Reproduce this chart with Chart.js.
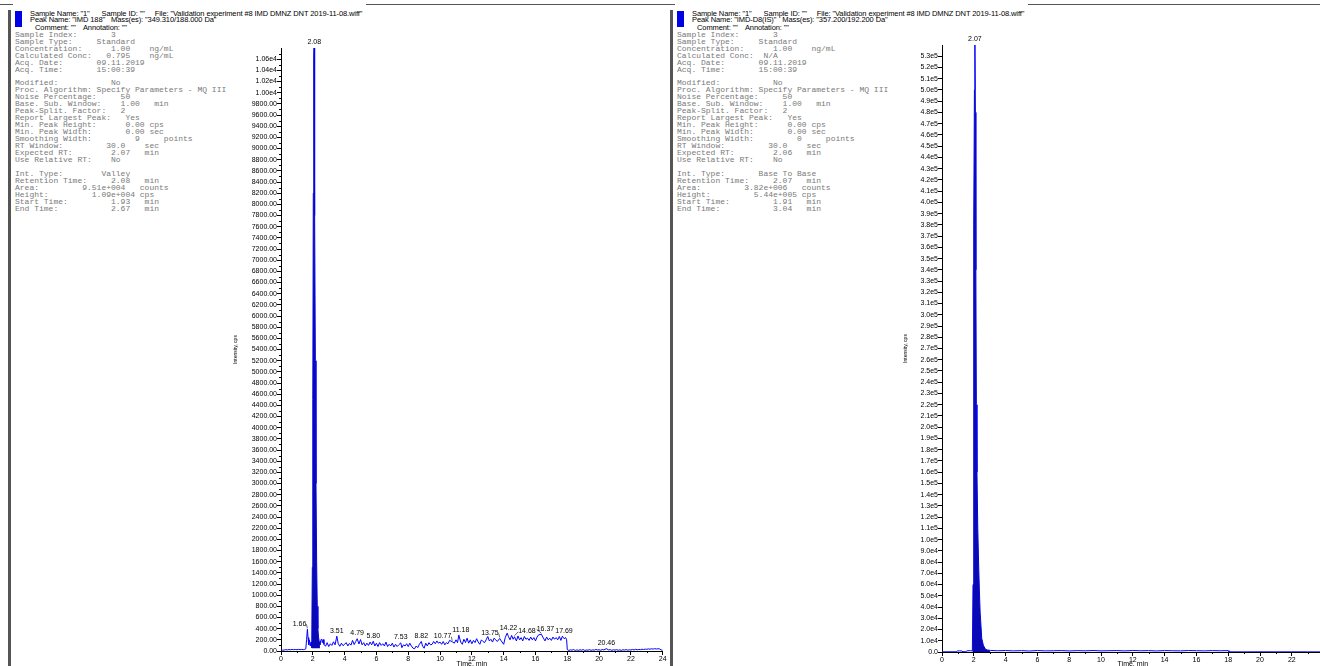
<!DOCTYPE html>
<html>
<head>
<meta charset="utf-8">
<script src="https://cdn.jsdelivr.net/npm/chart.js@4.4.1/dist/chart.umd.min.js"></script>
<style>
html, body { margin: 0; padding: 0; width: 1320px; height: 666px; overflow: hidden; background: #fff; }
.panel { position: absolute; top: 0; width: 662px; height: 666px; }
#topLine { position: absolute; left: 0; top: 4px; width: 1320px; height: 1px; background: #555; }
.border { position: absolute; left: 8px; top: 10px; width: 3px; bottom: 0; background: #555; }
.swatch { position: absolute; left: 15px; top: 11px; width: 7px; height: 16px; background: #0000e6; }
.hdr, .hdr2 { position: absolute; font: 7.5px "Liberation Sans", Arial, sans-serif; letter-spacing: -0.1px;
              line-height: 8px; white-space: pre; color: #000; }
.hdr { left: 13px; top: 0; padding: 9.5px 4px 0 17px; background: #fff; }
.params { position: absolute; left: 15px; top: 31.8px; margin: 0; font: 8px "Liberation Mono", monospace;
          line-height: 6.95px; color: #7a7a7a; white-space: pre; }
canvas { position: absolute; top: 30px; }
</style>
</head>
<body>
<div id="topLine"></div>
<div class="panel" id="panelL" style="left:0"></div>
<div class="panel" id="panelR" style="left:662px"></div>

<script>
/* Chromatogram data */

const leftTime = [
    0, 0.1, 0.2, 0.3, 0.4, 0.5, 0.6, 0.7, 0.8, 0.9, 1.0, 1.1, 1.2, 1.3, 1.4, 1.5, 1.56, 1.61, 1.66, 1.7,
    1.74, 1.79, 1.84, 1.89, 1.93, 1.97, 2.0, 2.03, 2.06, 2.08, 2.1, 2.13, 2.16, 2.2, 2.24, 2.28, 2.32, 2.36, 2.4, 2.45,
    2.5, 2.55, 2.6, 2.65, 2.7, 2.8, 2.9, 3.0, 3.1, 3.2, 3.3, 3.4, 3.51, 3.6, 3.7, 3.8, 3.9, 4.0, 4.1, 4.2,
    4.3, 4.4, 4.5, 4.6, 4.7, 4.79, 4.9, 5.0, 5.1, 5.2, 5.3, 5.4, 5.5, 5.6, 5.7, 5.8, 5.9, 6.0, 6.1, 6.2,
    6.3, 6.4, 6.5, 6.6, 6.7, 6.8, 6.9, 7.0, 7.1, 7.2, 7.3, 7.4, 7.53, 7.6, 7.7, 7.8, 7.9, 8.0, 8.1, 8.2,
    8.3, 8.4, 8.5, 8.6, 8.7, 8.82, 8.9, 9.0, 9.1, 9.2, 9.3, 9.4, 9.5, 9.6, 9.7, 9.8, 9.9, 10.0, 10.1, 10.2,
    10.3, 10.4, 10.5, 10.6, 10.77, 10.9, 11.0, 11.1, 11.18, 11.3, 11.4, 11.5, 11.6, 11.7, 11.8, 11.9, 12.0, 12.1, 12.2, 12.3,
    12.4, 12.5, 12.6, 12.7, 12.8, 12.9, 13.0, 13.1, 13.2, 13.3, 13.4, 13.5, 13.6, 13.75, 13.85, 14.0, 14.1, 14.22, 14.3, 14.4,
    14.5, 14.6, 14.68, 14.8, 14.9, 15.0, 15.1, 15.2, 15.3, 15.4, 15.5, 15.6, 15.7, 15.8, 15.9, 16.0, 16.1, 16.2, 16.37, 16.5,
    16.6, 16.7, 16.8, 16.9, 17.0, 17.1, 17.2, 17.3, 17.4, 17.5, 17.6, 17.69, 17.8, 17.9, 17.96, 18.0, 18.1, 18.2, 18.3, 18.4,
    18.5, 18.6, 18.7, 18.8, 18.9, 19.0, 19.1, 19.2, 19.3, 19.4, 19.5, 19.6, 19.7, 19.8, 19.9, 20.0, 20.1, 20.2, 20.3, 20.46,
    20.6, 20.7, 20.8, 20.9, 21.0, 21.1, 21.2, 21.3, 21.4, 21.5, 21.6, 21.7, 21.8, 21.9, 22.0, 22.1, 22.2, 22.3, 22.4, 22.5,
    22.6, 22.7, 22.8, 22.9, 23.0, 23.1, 23.2, 23.3, 23.4, 23.5, 23.6, 23.7, 23.8, 23.9, 24.0
];

const leftIntensity = [
    10, 14, 18, 24, 20, 26, 22, 28, 24, 27, 23, 29, 25, 28, 24, 30, 40, 210, 390, 240,
    110, 200, 90, 160, 60, 1500, 4500, 8200, 10600, 10900, 10200, 7800, 5200, 3000, 1600, 800, 400, 250, 170, 110,
    190, 215, 150, 205, 120, 85, 150, 80, 130, 100, 165, 110, 265, 130, 85, 140, 95, 120, 150, 90,
    135, 105, 190, 115, 170, 220, 125, 205, 110, 150, 90, 140, 100, 160, 110, 175, 90, 140, 80, 150,
    100, 130, 90, 160, 80, 120, 90, 140, 70, 120, 80, 110, 145, 60, 110, 90, 130, 80, 140, 90,
    50, 40, 90, 60, 120, 170, 90, 50, 140, 90, 150, 110, 120, 170, 130, 180, 140, 160, 120, 170,
    110, 150, 130, 190, 165, 140, 200, 150, 285, 160, 120, 210, 150, 230, 140, 200, 130, 190, 150, 220,
    160, 120, 200, 170, 150, 200, 260, 180, 210, 160, 230, 200, 170, 225, 180, 120, 240, 320, 260, 200,
    280, 210, 255, 180, 270, 200, 240, 180, 260, 210, 230, 190, 250, 200, 240, 180, 250, 290, 300, 230,
    180, 250, 200, 230, 190, 250, 210, 240, 200, 260, 190, 265, 220, 240, 200, 25, 10, 20, 15, 25,
    10, 20, 12, 22, 15, 25, 10, 18, 14, 24, 12, 20, 15, 28, 18, 22, 14, 26, 20, 42,
    18, 25, 12, 22, 16, 24, 14, 20, 12, 22, 18, 25, 15, 22, 18, 28, 20, 30, 22, 28,
    24, 32, 26, 34, 30, 38, 32, 40, 34, 42, 36, 40, 38, 20, 10
];

const rightTime = [
    0, 0.5, 0.9, 0.95, 1.1, 1.26, 1.3, 1.5, 1.57, 1.7, 1.8, 1.91, 1.95, 1.98, 2.01, 2.04, 2.07, 2.1, 2.13, 2.16,
    2.2, 2.25, 2.3, 2.35, 2.4, 2.5, 2.6, 2.73, 2.85, 3.04, 3.5, 4.0, 4.5, 5.0, 5.5, 6.0, 6.5, 7.0, 7.5, 8.0,
    8.5, 9.0, 9.5, 10.0, 10.5, 11.0, 11.5, 12.0, 12.5, 13.0, 13.5, 14.0, 14.5, 15.0, 15.5, 16.0, 16.5, 17.0, 17.5, 18.0,
    18.05, 19.0, 20.0, 21.0, 22.0, 23.0, 24.0
];

const rightIntensity = [
    150, 200, 180, 900, 1000, 900, 250, 300, 1000, 1200, 1100, 1000, 60000, 200000, 380000, 500000, 544000, 480000, 340000, 220000,
    160000, 110000, 80000, 55000, 35000, 12000, 6000, 2500, 1800, 1400, 1100, 1300, 1000, 1200, 900, 1300, 1000, 1100, 1250, 950,
    1200, 1050, 1300, 1000, 1150, 1250, 1000, 1300, 1100, 1200, 950, 1250, 1100, 1000, 1300, 1150, 1000, 1250, 1100, 1200,
    150, 120, 160, 140, 150, 130, 120
];

const leftPeakTimes = [1.66, 2.08, 3.51, 4.79, 5.8, 7.53, 8.82, 10.77, 11.18, 13.75, 14.22, 14.68, 16.37, 17.69, 20.46];
const rightPeakTimes = [2.07];

const leftFillRange = [1.93, 2.45];
const rightFillRange = [1.91, 3.04];

const xTickLabels = [0, 2, 4, 6, 8, 10, 12, 14, 16, 18, 20, 22, 24];

/* Panel text */

function row(label, fields) {

    let s = label;

    fields.forEach(([col, txt]) => { s = s.padEnd(col) + txt; });

    return s;

}

const leftParams = [
    row("Sample Index:", [[20, "3"]]),
    row("Sample Type:", [[17, "Standard"]]),
    row("Concentration:", [[20, "1.00"], [28, "ng/mL"]]),
    row("Calculated Conc:", [[19, "0.795"], [28, "ng/mL"]]),
    row("Acq. Date:", [[17, "09.11.2019"]]),
    row("Acq. Time:", [[17, "15:00:39"]]),
    "",
    row("Modified:", [[20, "No"]]),
    "Proc. Algorithm: Specify Parameters - MQ III",
    row("Noise Percentage:", [[22, "50"]]),
    row("Base. Sub. Window:", [[22, "1.00"], [29, "min"]]),
    row("Peak-Split. Factor:", [[22, "2"]]),
    row("Report Largest Peak:", [[23, "Yes"]]),
    row("Min. Peak Height:", [[23, "0.00"], [28, "cps"]]),
    row("Min. Peak Width:", [[23, "0.00"], [28, "sec"]]),
    row("Smoothing Width:", [[25, "9"], [31, "points"]]),
    row("RT Window:", [[19, "30.0"], [27, "sec"]]),
    row("Expected RT:", [[20, "2.07"], [27, "min"]]),
    row("Use Relative RT:", [[20, "No"]]),
    "",
    row("Int. Type:", [[18, "Valley"]]),
    row("Retention Time:", [[20, "2.08"], [27, "min"]]),
    row("Area:", [[14, "9.51e+004"], [26, "counts"]]),
    row("Height:", [[16, "1.09e+004"], [26, "cps"]]),
    row("Start Time:", [[20, "1.93"], [27, "min"]]),
    row("End Time:", [[20, "2.67"], [27, "min"]])
];

const rightParams = [
    row("Sample Index:", [[20, "3"]]),
    row("Sample Type:", [[17, "Standard"]]),
    row("Concentration:", [[20, "1.00"], [28, "ng/mL"]]),
    row("Calculated Conc:", [[18, "N/A"]]),
    row("Acq. Date:", [[17, "09.11.2019"]]),
    row("Acq. Time:", [[17, "15:00:39"]]),
    "",
    row("Modified:", [[20, "No"]]),
    "Proc. Algorithm: Specify Parameters - MQ III",
    row("Noise Percentage:", [[22, "50"]]),
    row("Base. Sub. Window:", [[22, "1.00"], [29, "min"]]),
    row("Peak-Split. Factor:", [[22, "2"]]),
    row("Report Largest Peak:", [[23, "Yes"]]),
    row("Min. Peak Height:", [[23, "0.00"], [28, "cps"]]),
    row("Min. Peak Width:", [[23, "0.00"], [28, "sec"]]),
    row("Smoothing Width:", [[25, "0"], [31, "points"]]),
    row("RT Window:", [[19, "30.0"], [27, "sec"]]),
    row("Expected RT:", [[20, "2.06"], [27, "min"]]),
    row("Use Relative RT:", [[20, "No"]]),
    "",
    row("Int. Type:", [[17, "Base To Base"]]),
    row("Retention Time:", [[20, "2.07"], [27, "min"]]),
    row("Area:", [[14, "3.82e+006"], [26, "counts"]]),
    row("Height:", [[16, "5.44e+005"], [26, "cps"]]),
    row("Start Time:", [[20, "1.91"], [27, "min"]]),
    row("End Time:", [[20, "3.04"], [27, "min"]])
];

const fileLine = 'File: "Validation experiment #8 IMD DMNZ DNT 2019-11-08.wiff"';

function buildPanel(el, peakName, masses, params) {

    el.innerHTML =
        '<div class="border"></div>' +
        '<div class="hdr"><span>Sample Name: "1"</span><span style="margin-left:12px">Sample ID: ""</span>' +
        '<span style="margin-left:10px">' + fileLine + '</span></div>' +
        '<div class="swatch"></div>' +
        '<div class="hdr2" style="left:30px;top:16.3px">Peak Name: "' + peakName + '"' +
        '<span style="margin-left:6px">Mass(es): "' + masses + '"</span></div>' +
        '<div class="hdr2" style="left:35px;top:24.3px">Comment: ""<span style="margin-left:7px">Annotation: ""</span></div>' +
        '<pre class="params">' + params.join("\n") + '</pre>';

}

buildPanel(document.getElementById("panelL"), "IMD 188", "349.310/188.000 Da", leftParams);
buildPanel(document.getElementById("panelR"), "IMD-D8(IS)", "357.200/192.200 Da", rightParams);

/* Plugins */

const tickFont = '7px "Liberation Sans", Arial, sans-serif';

const peakLabels = {

    id: "peakLabels",

    afterDatasetsDraw(chart, args, opts) {

        const { ctx, chartArea, scales: { x, y } } = chart;

        ctx.save();
        ctx.font = tickFont;
        ctx.fillStyle = "#000";
        ctx.strokeStyle = "#000";
        ctx.lineWidth = 0.6;
        ctx.textAlign = "center";
        ctx.textBaseline = "bottom";

        let prevRight = -Infinity;

        opts.times.forEach((t, i) => {

            const text = t.toFixed(2);
            const h = opts.values[opts.timeAxis.indexOf(t)];
            const px = x.getPixelForValue(t);
            const py = Math.max(y.getPixelForValue(h), chartArea.top) - 2;
            const w = ctx.measureText(text).width;

            let cx = px;

            // keep a small peak's label clear of a taller peak just after it
            const next = opts.times[i + 1];
            if (next !== undefined) {
                const nextH = opts.values[opts.timeAxis.indexOf(next)];
                if (nextH > h && x.getPixelForValue(next) - px < w / 2 + 3) cx = px - w / 2 - 1;
            }

            if (cx - w / 2 < prevRight + 1) cx = prevRight + 1 + w / 2;

            if (Math.abs(cx - px) > 3) {
                ctx.beginPath();
                ctx.moveTo(cx > px ? cx - w / 2 : cx + w / 2, py - 3);
                ctx.lineTo(px, py + 1);
                ctx.stroke();
            }

            ctx.fillText(text, cx, py);
            prevRight = cx + w / 2;

        });

        ctx.restore();

    }

};

const minorTicks = {

    id: "minorTicks",

    afterDraw(chart, args, opts) {

        const { ctx, scales: { x, y } } = chart;

        ctx.save();
        ctx.strokeStyle = "#000";
        ctx.lineWidth = 1;
        ctx.beginPath();

        x.ticks.forEach((t) => {
            if (t.value % 2 === 0) return;
            const p = Math.round(x.getPixelForValue(t.value)) + 0.5;
            ctx.moveTo(p, x.top);
            ctx.lineTo(p, x.top + 2);
        });

        if (opts.yMinor) {
            y.ticks.forEach((t) => {
                if (opts.yMajor(t.value) || t.value >= y.max) return;
                const p = Math.round(y.getPixelForValue(t.value)) + 0.5;
                ctx.moveTo(y.right - 2, p);
                ctx.lineTo(y.right, p);
            });
        }

        ctx.stroke();
        ctx.restore();

    }

};

/* Charts */

function points(times, values, range) {

    const out = [];

    times.forEach((t, i) => {
        if (!range || (t >= range[0] && t <= range[1])) out.push({ x: t, y: values[i] });
    });

    return out;

}

function makeChart(opts) {

    const canvas = document.createElement("canvas");

    canvas.width = 470;
    canvas.height = 636;
    canvas.style.left = opts.left + "px";
    document.body.appendChild(canvas);

    return new Chart(canvas, {

        type: "line",

        data: {

            datasets: [

                {
                    data: points(opts.times, opts.values, opts.fillRange),
                    borderWidth: 0,
                    borderColor: "#0a0ab4",
                    backgroundColor: "#0a0ab4",
                    pointRadius: 0,
                    fill: { value: opts.fillBase }
                },

                {
                    data: points(opts.times, opts.values),
                    borderWidth: 1,
                    borderColor: "#0000ff",
                    pointRadius: 0,
                    fill: false
                }

            ]

        },

        options: {

            responsive: false,
            animation: false,
            devicePixelRatio: 1,

            layout: { padding: { top: opts.padTop, right: opts.padRight, left: 0, bottom: 0 } },

            plugins: {
                legend: { display: false },
                tooltip: { enabled: false },
                peakLabels: { times: opts.peaks, timeAxis: opts.times, values: opts.values },
                minorTicks: { yMinor: opts.yMinor, yMajor: opts.yMajor }
            },

            scales: {

                x: {
                    type: "linear",
                    min: 0,
                    max: 24,
                    ticks: {
                        stepSize: 1,
                        autoSkip: false,
                        maxRotation: 0,
                        padding: 0,
                        color: "#000",
                        font: { family: '"Liberation Sans", Arial, sans-serif', size: 7 },
                        callback: (v) => (xTickLabels.includes(v) ? String(v) : "")
                    },
                    grid: {
                        drawOnChartArea: false,
                        tickLength: 4,
                        tickColor: (c) => (c.tick && c.tick.value % 2 === 0 ? "#000" : "rgba(0,0,0,0)")
                    },
                    border: { color: "#000", width: 1 },
                    title: {
                        display: true,
                        text: "Time, min",
                        color: "#000",
                        font: { family: '"Liberation Sans", Arial, sans-serif', size: 7 },
                        padding: { top: 0, bottom: -2 }
                    },
                    afterFit: (s) => { s.height = opts.xHeight; }
                },

                y: {
                    min: 0,
                    max: opts.yMax,
                    ticks: {
                        stepSize: opts.yStep,
                        autoSkip: false,
                        padding: 0,
                        color: "#000",
                        font: { family: '"Liberation Sans", Arial, sans-serif', size: 7 },
                        callback: opts.yFormat
                    },
                    grid: {
                        drawOnChartArea: false,
                        tickLength: 4,
                        tickColor: (c) => (c.tick && opts.yMajor(c.tick.value) && c.tick.value < opts.yMax ? "#000" : "rgba(0,0,0,0)")
                    },
                    border: { color: "#000", width: 1 },
                    title: {
                        display: true,
                        text: "Intensity, cps",
                        color: "#000",
                        font: { family: '"Liberation Sans", Arial, sans-serif', size: 5 },
                        padding: { top: opts.yTitlePad, bottom: 0 }
                    },
                    afterFit: (s) => { s.width = opts.yWidth; }
                }

            }

        },

        plugins: [peakLabels, minorTicks]

    });

}

const leftMajor = (v) => Math.round(v) % 200 === 0;

makeChart({
    left: 200,
    times: leftTime,
    values: leftIntensity,
    fillRange: leftFillRange,
    fillBase: 50,
    peaks: leftPeakTimes,
    padTop: 18,
    padRight: 7.3,
    xHeight: 15,
    yWidth: 81,
    yTitlePad: 33,
    yMax: 10800,
    yStep: 100,
    yMinor: true,
    yMajor: leftMajor,
    yFormat: (v) => {
        if (v >= 10800 || !leftMajor(v)) return "";
        return v >= 10000 ? (v / 10000).toFixed(2) + "e4" : v.toFixed(2);
    }
});

makeChart({
    left: 862,
    times: rightTime,
    values: rightIntensity,
    fillRange: rightFillRange,
    fillBase: 0,
    peaks: rightPeakTimes,
    padTop: 15,
    padRight: 8.4,
    xHeight: 14,
    yWidth: 80,
    yTitlePad: 41,
    yMax: 540000,
    yStep: 10000,
    yMinor: false,
    yMajor: (v) => v % 10000 === 0,
    yFormat: (v) => {
        if (v % 10000 !== 0 || v > 530000) return "";
        if (v === 0) return "0.0";
        return v >= 100000 ? (v / 100000).toFixed(1) + "e5" : (v / 10000).toFixed(1) + "e4";
    }
});
</script>
</body>
</html>
